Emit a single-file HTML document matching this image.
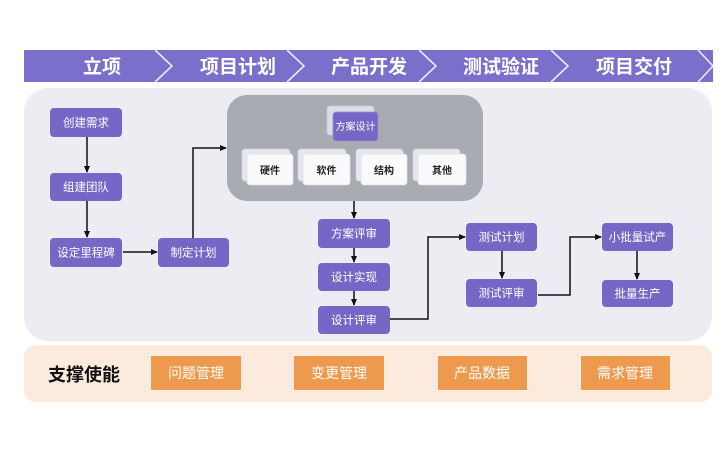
<!DOCTYPE html>
<html><head><meta charset="utf-8"><style>
html,body{margin:0;padding:0;background:#fff;}
svg{display:block;}
text{font-family:"Liberation Sans","Noto Sans CJK SC",sans-serif;}
</style></head><body>
<svg width="720" height="450" viewBox="0 0 720 450" xmlns="http://www.w3.org/2000/svg">
<defs>
<marker id="ah" markerWidth="8" markerHeight="8" refX="6" refY="4" orient="auto" markerUnits="userSpaceOnUse">
<path d="M0,1 L7,4 L0,7 Z" fill="#111"/>
</marker>
</defs>
<rect width="720" height="450" fill="#fff"/>
<!-- banner -->
<rect x="24" y="50" width="689" height="32" fill="#7a6fca"/>
<g fill="none" stroke="#ecebf8" stroke-width="1.6">
<polyline points="155,50 172,66 155,82"/>
<polyline points="287,50 304,66 287,82"/>
<polyline points="419,50 436,66 419,82"/>
<polyline points="551,50 568,66 551,82"/>
<polyline points="698,50 713,66 698,82"/>
</g>
<g fill="#fff" font-size="19" font-weight="bold" text-anchor="middle">
<text x="102" y="73">立项</text>
<text x="238" y="73">项目计划</text>
<text x="369" y="73">产品开发</text>
<text x="501" y="73">测试验证</text>
<text x="634" y="73">项目交付</text>
</g>
<!-- main panel -->
<rect x="24" y="88" width="688" height="253" rx="24" fill="#ecedf3"/>
<!-- bottom panel -->
<rect x="24" y="345" width="688" height="57" rx="12" fill="#fcebdc"/>
<text x="84" y="381" font-size="18" font-weight="bold" fill="#111" text-anchor="middle">支撑使能</text>
<g stroke="#fff3e8" stroke-width="1" fill="#ee9a4e">
<rect x="150.5" y="355.5" width="91" height="35"/>
<rect x="293.5" y="355.5" width="91" height="35"/>
<rect x="437.5" y="355.5" width="90" height="35"/>
<rect x="580.5" y="355.5" width="90" height="35"/>
</g>
<g fill="#fff" font-size="14" text-anchor="middle">
<text x="196" y="378">问题管理</text>
<text x="339" y="378">变更管理</text>
<text x="482" y="378">产品数据</text>
<text x="625" y="378">需求管理</text>
</g>
<!-- gray box -->
<rect x="227" y="95" width="256" height="106" rx="20" fill="#a9abb3"/>
<!-- 方案设计 -->
<rect x="327" y="106" width="47" height="29" rx="3" fill="#dadce6" stroke="#c8cad4" stroke-width="0.8"/>
<rect x="333" y="112" width="45" height="29" rx="3" fill="#7467c6" stroke="#9a90d8" stroke-width="0.8"/>
<text x="355.5" y="130" font-size="10" fill="#fff" text-anchor="middle">方案设计</text>
<!-- sub cards -->
<g stroke="#d2d4dc" stroke-width="0.8">
<rect x="242" y="149" width="48" height="32" rx="3" fill="#e6e7ee"/>
<rect x="298" y="149" width="48" height="32" rx="3" fill="#e6e7ee"/>
<rect x="356" y="149" width="47" height="32" rx="3" fill="#e6e7ee"/>
<rect x="413" y="149" width="47" height="32" rx="3" fill="#e6e7ee"/>
</g>
<g fill="#fafafc" stroke="#e0e1e8" stroke-width="0.8">
<rect x="247" y="154" width="46" height="31" rx="3"/>
<rect x="303" y="154" width="47" height="31" rx="3"/>
<rect x="361" y="154" width="46" height="31" rx="3"/>
<rect x="418" y="154" width="48" height="31" rx="3"/>
</g>
<g fill="#222" font-size="10" font-weight="bold" text-anchor="middle">
<text x="270" y="174">硬件</text>
<text x="326.5" y="174">软件</text>
<text x="384" y="174">结构</text>
<text x="442" y="174">其他</text>
</g>
<!-- purple nodes -->
<g fill="#7467c6">
<rect x="50" y="108" width="72" height="29" rx="4"/>
<rect x="50" y="173" width="72" height="28" rx="4"/>
<rect x="50" y="238" width="72" height="29" rx="4"/>
<rect x="158" y="238" width="71" height="29" rx="4"/>
<rect x="318" y="219" width="72" height="29" rx="4"/>
<rect x="318" y="263" width="72" height="28" rx="4"/>
<rect x="318" y="306" width="72" height="28" rx="4"/>
<rect x="466" y="223" width="71" height="28" rx="4"/>
<rect x="466" y="279" width="71" height="28" rx="4"/>
<rect x="602" y="223" width="71" height="28" rx="4"/>
<rect x="602" y="280" width="71" height="27" rx="4"/>
</g>
<g fill="#fff" font-size="11.5" text-anchor="middle">
<text x="86" y="126.5">创建需求</text>
<text x="86" y="191">组建团队</text>
<text x="86" y="256.5">设定里程碑</text>
<text x="193.5" y="256.5">制定计划</text>
<text x="354" y="237.5">方案评审</text>
<text x="354" y="281">设计实现</text>
<text x="354" y="324">设计评审</text>
<text x="501.5" y="241">测试计划</text>
<text x="501.5" y="297">测试评审</text>
<text x="637.5" y="241">小批量试产</text>
<text x="637.5" y="297.5">批量生产</text>
</g>
<!-- connectors -->
<g fill="none" stroke="#111" stroke-width="1.5" marker-end="url(#ah)">
<line x1="87" y1="137" x2="87" y2="172"/>
<line x1="87" y1="201" x2="87" y2="237"/>
<line x1="123" y1="252" x2="157" y2="252"/>
<polyline points="193,238 193,148 226,148"/>
<line x1="354" y1="201" x2="354" y2="218"/>
<line x1="354" y1="248" x2="354" y2="262"/>
<line x1="354" y1="291" x2="354" y2="305"/>
<polyline points="390,319 428,319 428,237 465,237"/>
<line x1="502" y1="251" x2="502" y2="278"/>
<polyline points="538,295 570,295 570,237 601,237"/>
<line x1="637" y1="251" x2="637" y2="279"/>
</g>
</svg>
</body></html>
